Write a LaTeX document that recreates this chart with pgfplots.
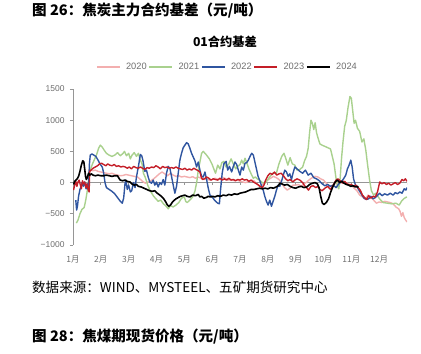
\documentclass[border=0pt]{standalone}
\usepackage{fontspec}
\setmainfont{Liberation Sans}
\newfontfamily\cjk{Noto Sans CJK SC}
\usepackage{pgfplots}
\pgfplotsset{compat=1.18}
\definecolor{c2020}{RGB}{243,175,175}
\definecolor{c2021}{RGB}{169,209,142}
\definecolor{c2022}{RGB}{47,85,160}
\definecolor{c2023}{RGB}{196,30,40}
\definecolor{c2024}{RGB}{0,0,0}
\definecolor{axisgray}{RGB}{150,150,150}
\definecolor{labelgray}{RGB}{110,110,110}
\begin{document}
\begin{tikzpicture}
\useasboundingbox (0,0) rectangle (421bp,354bp);
\node[anchor=west, inner sep=0] at (32bp,343bp) {\cjk\bfseries\fontsize{14.6}{16}\selectfont 图 26：焦炭主力合约基差（元/吨）};
\node[anchor=center, inner sep=0] at (225bp,312bp) {\cjk\bfseries\fontsize{12.3}{14}\selectfont 01合约基差};
\node[anchor=west, inner sep=0] at (32bp,67bp) {\cjk\fontsize{13.6}{15}\selectfont 数据来源：WIND、MYSTEEL、五矿期货研究中心};
\node[anchor=west, inner sep=0] at (32bp,17bp) {\cjk\bfseries\fontsize{14.6}{16}\selectfont 图 28：焦煤期现货价格（元/吨）};
\begin{axis}[
  at={(73bp,109bp)}, anchor=south west,
  width=334bp, height=156bp, scale only axis,
  xmin=0, xmax=12, ymin=-1000, ymax=1500,
  axis y line*=left, axis x line*=bottom,
  y axis line style={-, draw=axisgray, line width=0.8bp},
  x axis line style={draw=none},
  xtick={0,1,...,11},
  xticklabels={{\cjk 1月},{\cjk 2月},{\cjk 3月},{\cjk 4月},{\cjk 5月},{\cjk 6月},{\cjk 7月},{\cjk 8月},{\cjk 9月},{\cjk 10月},{\cjk 11月},{\cjk 12月}},
  xtick style={draw=none},
  xticklabel style={font=\fontsize{8.5}{10}\selectfont, text=labelgray, yshift=-4bp},
  ytick={-1000,-500,0,500,1000,1500},
  yticklabels={−1000,−500,0,500,1000,1500},
  ytick style={draw=axisgray, line width=0.8bp},
  tick align=outside, major tick length=3bp,
  yticklabel style={font=\fontsize{8.5}{10}\selectfont, text=labelgray, xshift=-2bp},
  extra y ticks={0}, extra y tick labels={},
  extra y tick style={grid=major, major grid style={draw=axisgray, line width=0.9bp}, tick style={draw=none}},
  legend columns=5,
  legend style={draw=none, fill=none, font=\fontsize{9.3}{10}\selectfont, text=labelgray,
    at={(axis description cs:0.4626,1.141)}, anchor=center,
    /tikz/every odd column/.append style={column sep=3.5bp}},
  legend image code/.code={\draw[#1] (0bp,0bp) -- (23bp,0bp);},
  every axis plot/.append style={line width=1.4bp, line join=round},
]
\pgfplotsinvokeforeach{1,...,12}{\draw[axisgray, line width=0.7bp] (axis cs:#1,0) -- ([yshift=-2.4bp]axis cs:#1,0);}
% 2020
\addplot[c2020] coordinates {
(0.55,200) (0.62,210) (0.7,190) (0.8,200) (0.9,180) (1.0,170) (1.1,160) (1.2,150) (1.3,140) (1.4,150) (1.5,130) (1.6,120) (1.7,110) (1.8,115) (1.9,130) (2.0,120) (2.1,110) (2.2,100) (2.3,95) (2.4,60) (2.5,20) (2.6,-10) (2.7,10) (2.8,30) (2.9,60) (3.0,100) (3.1,140) (3.2,170) (3.3,140) (3.4,110) (3.5,150) (3.6,120) (3.7,100) (3.8,110) (3.9,90) (4.0,100) (4.1,90) (4.2,80) (4.3,95) (4.4,70) (4.5,90) (4.6,70) (4.7,50) (4.8,60) (4.9,40) (5.0,50) (5.1,70) (5.2,55) (5.3,60) (5.4,80) (5.5,60) (5.6,40) (5.7,50) (5.8,30) (5.9,45) (6.0,20) (6.1,10) (6.2,0) (6.3,15) (6.4,40) (6.5,30) (6.6,-20) (6.7,-60) (6.8,-30) (6.9,10) (7.0,40) (7.1,70) (7.2,100) (7.3,80) (7.4,50) (7.5,-10) (7.6,-80) (7.7,-120) (7.8,-90) (7.9,-40) (8.0,-40) (8.1,-30) (8.2,-60) (8.3,-20) (8.4,10) (8.5,50) (8.6,80) (8.7,100) (8.8,90) (8.9,60) (9.0,40) (9.1,-10) (9.2,-50) (9.3,-60) (9.4,-20) (9.5,-10) (9.6,20) (9.7,30) (9.8,0) (9.9,-20) (10.0,-40) (10.1,-90) (10.2,-130) (10.3,-200) (10.4,-230) (10.5,-270) (10.6,-200) (10.7,-230) (10.8,-280) (10.9,-330) (11.0,-310) (11.1,-320) (11.2,-300) (11.3,-310) (11.4,-320) (11.5,-340) (11.6,-390) (11.7,-420) (11.75,-460) (11.8,-540) (11.85,-480) (11.9,-560) (11.95,-600) (12.0,-630)
};
\addlegendentry{2020}
% 2021
\addplot[c2021] coordinates {
(0.12,-650) (0.18,-600) (0.25,-500) (0.32,-430) (0.4,-400) (0.45,-300) (0.5,-170) (0.55,0) (0.58,150) (0.62,200) (0.7,300) (0.78,380) (0.85,450) (0.92,550) (0.98,600) (1.05,570) (1.12,520) (1.2,470) (1.3,440) (1.4,420) (1.5,440) (1.6,480) (1.7,430) (1.8,470) (1.85,500) (1.92,430) (2.0,470) (2.06,380) (2.12,440) (2.2,480) (2.28,420) (2.35,470) (2.42,360) (2.48,300) (2.53,150) (2.6,80) (2.7,-60) (2.8,-150) (2.9,-220) (3.0,-270) (3.06,-300) (3.15,-280) (3.25,-340) (3.35,-380) (3.42,-420) (3.5,-370) (3.6,-390) (3.7,-360) (3.8,-320) (3.9,-250) (4.0,-230) (4.05,-300) (4.1,-320) (4.2,-280) (4.3,-230) (4.38,-140) (4.45,20) (4.5,200) (4.56,330) (4.62,470) (4.68,500) (4.8,440) (4.9,380) (5.0,290) (5.05,230) (5.12,150) (5.2,280) (5.28,220) (5.35,320) (5.42,340) (5.5,250) (5.6,300) (5.68,380) (5.76,300) (5.85,220) (5.92,260) (6.0,290) (6.06,360) (6.12,300) (6.18,390) (6.25,310) (6.32,220) (6.41,130) (6.48,70) (6.55,90) (6.62,60) (6.7,40) (6.8,0) (6.9,-10) (7.0,50) (7.1,110) (7.2,160) (7.3,140) (7.4,300) (7.5,420) (7.58,470) (7.65,380) (7.72,280) (7.8,400) (7.88,300) (7.97,280) (8.05,200) (8.15,210) (8.25,250) (8.32,350) (8.39,420) (8.45,550) (8.5,800) (8.55,1000) (8.6,950) (8.65,850) (8.7,960) (8.75,800) (8.8,720) (8.87,620) (8.95,600) (9.05,580) (9.15,560) (9.25,540) (9.3,450) (9.38,300) (9.44,100) (9.5,-60) (9.55,-100) (9.6,80) (9.65,400) (9.7,650) (9.76,900) (9.82,1000) (9.88,1200) (9.95,1380) (10.0,1350) (10.05,1150) (10.1,950) (10.15,1000) (10.22,870) (10.3,820) (10.38,650) (10.45,700) (10.52,520) (10.58,300) (10.65,60) (10.72,-130) (10.8,-200) (10.88,-170) (10.95,-220) (11.05,-280) (11.15,-320) (11.3,-330) (11.45,-340) (11.6,-330) (11.72,-360) (11.8,-300) (11.88,-260) (11.95,-240) (12.0,-230)
};
\addlegendentry{2021}
% 2022
\addplot[c2022] coordinates {
(0.1,-280) (0.13,-440) (0.16,-380) (0.2,-220) (0.25,-110) (0.3,-50) (0.33,0) (0.37,-60) (0.42,10) (0.47,-100) (0.52,-20) (0.56,-100) (0.59,300) (0.62,440) (0.68,460) (0.75,440) (0.82,420) (0.9,360) (0.97,300) (1.05,250) (1.1,160) (1.15,0) (1.2,-80) (1.3,-110) (1.4,-140) (1.5,-180) (1.6,-240) (1.7,-300) (1.77,-330) (1.82,-250) (1.87,-10) (1.9,40) (1.95,-110) (2.0,-40) (2.06,-150) (2.11,-130) (2.17,0) (2.23,-80) (2.28,90) (2.35,260) (2.42,450) (2.47,430) (2.52,340) (2.58,180) (2.64,200) (2.7,90) (2.76,10) (2.82,-10) (2.88,40) (2.94,-40) (3.0,10) (3.06,-70) (3.12,0) (3.18,-30) (3.24,50) (3.3,-40) (3.36,150) (3.42,260) (3.48,230) (3.54,100) (3.6,-40) (3.66,-170) (3.72,-60) (3.78,150) (3.84,360) (3.9,470) (3.96,560) (4.02,600) (4.08,640) (4.14,620) (4.2,550) (4.26,470) (4.32,410) (4.38,350) (4.44,250) (4.5,330) (4.56,200) (4.62,100) (4.68,90) (4.74,170) (4.8,50) (4.86,-90) (4.92,-200) (5.0,-230) (5.1,-290) (5.2,-330) (5.26,-340) (5.3,-120) (5.36,150) (5.42,300) (5.5,340) (5.56,200) (5.62,260) (5.7,170) (5.76,260) (5.82,330) (5.88,290) (5.94,200) (6.0,120) (6.06,250) (6.12,200) (6.18,310) (6.24,320) (6.3,360) (6.36,420) (6.42,470) (6.48,440) (6.53,340) (6.6,200) (6.65,100) (6.72,20) (6.78,-60) (6.84,-130) (6.89,-220) (6.95,-300) (7.01,-360) (7.07,-280) (7.13,-380) (7.19,-300) (7.25,-220) (7.31,-120) (7.37,-40) (7.43,-60) (7.49,20) (7.55,110) (7.61,200) (7.67,170) (7.73,100) (7.79,140) (7.85,50) (7.91,160) (7.97,250) (8.05,220) (8.15,180) (8.25,150) (8.35,200) (8.45,120) (8.55,150) (8.65,80) (8.75,60) (8.85,30) (8.95,-20) (9.05,-50) (9.15,-30) (9.25,-60) (9.35,-40) (9.45,-80) (9.55,-20) (9.65,20) (9.72,60) (9.8,120) (9.86,220) (9.92,280) (9.98,360) (10.03,250) (10.08,60) (10.15,-40) (10.22,-80) (10.3,-140) (10.38,-200) (10.46,-250) (10.55,-270) (10.62,-260) (10.7,-220) (10.78,-260) (10.86,-240) (10.95,-200) (11.02,-170) (11.1,-210) (11.2,-180) (11.3,-200) (11.4,-170) (11.5,-200) (11.58,-160) (11.66,-180) (11.74,-150) (11.82,-170) (11.9,-100) (11.96,-120) (12.0,-80)
};
\addlegendentry{2022}
% 2023
\addplot[c2023] coordinates {
(0.02,-120) (0.06,-40) (0.1,20) (0.14,-60) (0.18,10) (0.22,40) (0.26,-30) (0.3,-100) (0.34,30) (0.38,-20) (0.42,10) (0.46,-80) (0.5,-20) (0.54,-110) (0.58,-150) (0.6,180) (0.65,200) (0.72,230) (0.8,250) (0.88,270) (0.95,300) (1.03,310) (1.1,290) (1.18,270) (1.25,300) (1.32,280) (1.4,270) (1.48,290) (1.56,260) (1.64,270) (1.72,250) (1.8,260) (1.88,250) (1.95,230) (2.02,250) (2.1,220) (2.18,260) (2.26,240) (2.34,230) (2.42,250) (2.5,230) (2.58,210) (2.66,240) (2.74,230) (2.82,250) (2.9,240) (2.98,270) (3.06,250) (3.14,220) (3.22,260) (3.3,240) (3.38,250) (3.46,230) (3.54,240) (3.62,230) (3.7,250) (3.78,230) (3.86,220) (3.94,210) (4.02,230) (4.1,200) (4.18,220) (4.26,200) (4.34,230) (4.42,210) (4.5,190) (4.56,170) (4.6,100) (4.65,50) (4.72,60) (4.8,90) (4.88,70) (4.96,40) (5.04,60) (5.12,50) (5.2,40) (5.28,70) (5.36,40) (5.44,60) (5.52,40) (5.6,70) (5.68,40) (5.76,50) (5.84,30) (5.92,50) (6.0,40) (6.08,60) (6.16,40) (6.24,50) (6.32,20) (6.4,40) (6.48,10) (6.56,-10) (6.64,-30) (6.72,-60) (6.8,-80) (6.86,-40) (6.92,40) (7.0,110) (7.08,150) (7.16,130) (7.24,170) (7.32,120) (7.4,140) (7.48,150) (7.56,110) (7.64,60) (7.72,30) (7.8,50) (7.9,10) (7.97,40) (8.05,60) (8.15,40) (8.25,0) (8.32,-50) (8.39,-80) (8.46,-120) (8.55,-60) (8.63,-50) (8.72,-80) (8.8,-60) (8.87,-110) (8.95,-130) (9.05,-90) (9.15,-60) (9.25,-110) (9.35,-40) (9.45,40) (9.52,60) (9.6,30) (9.68,-10) (9.76,20) (9.84,-20) (9.92,-40) (10.0,-30) (10.08,-60) (10.16,-40) (10.24,-80) (10.32,-120) (10.4,-200) (10.48,-240) (10.55,-270) (10.62,-210) (10.7,-250) (10.78,-220) (10.86,-230) (10.94,-150) (11.02,10) (11.1,-20) (11.18,0) (11.26,-30) (11.34,-10) (11.42,-40) (11.5,-20) (11.58,0) (11.66,-30) (11.74,-10) (11.82,50) (11.88,30) (11.94,60) (12.0,20)
};
\addlegendentry{2023}
% 2024
\addplot[c2024, line width=1.6bp] coordinates {
(0.02,-30) (0.06,20) (0.1,40) (0.15,60) (0.2,100) (0.25,180) (0.3,280) (0.35,350) (0.39,330) (0.42,220) (0.45,100) (0.48,50) (0.52,90) (0.56,150) (0.6,120) (0.66,140) (0.72,120) (0.8,110) (0.9,120) (1.0,110) (1.1,110) (1.2,120) (1.3,110) (1.4,100) (1.5,110) (1.6,110) (1.65,70) (1.7,40) (1.78,30) (1.87,40) (1.95,20) (2.05,10) (2.11,-20) (2.2,-40) (2.28,-30) (2.35,-60) (2.45,-70) (2.55,-90) (2.65,-110) (2.75,-130) (2.85,-140) (2.94,-130) (3.0,-160) (3.06,-180) (3.12,-200) (3.2,-230) (3.26,-260) (3.32,-300) (3.38,-350) (3.44,-380) (3.5,-360) (3.56,-320) (3.62,-290) (3.7,-260) (3.78,-240) (3.86,-220) (3.94,-210) (4.02,-200) (4.1,-220) (4.2,-230) (4.3,-200) (4.4,-210) (4.5,-190) (4.56,-230) (4.62,-220) (4.7,-250) (4.78,-240) (4.86,-220) (4.94,-230) (5.02,-220) (5.1,-230) (5.2,-210) (5.3,-220) (5.4,-200) (5.5,-210) (5.6,-190) (5.7,-200) (5.8,-180) (5.9,-190) (6.0,-170) (6.1,-160) (6.2,-150) (6.3,-130) (6.4,-110) (6.5,-110) (6.6,-100) (6.7,-90) (6.8,-100) (6.9,-90) (7.0,-100) (7.1,-80) (7.2,-90) (7.3,-70) (7.38,-50) (7.43,-10) (7.5,-20) (7.6,-40) (7.7,-30) (7.8,-60) (7.9,-80) (8.0,-90) (8.1,-70) (8.2,-60) (8.3,-80) (8.4,-70) (8.5,-30) (8.6,-10) (8.7,0) (8.78,-20) (8.84,-80) (8.9,-220) (8.96,-330) (9.02,-350) (9.1,-320) (9.18,-260) (9.26,-150) (9.34,-60) (9.42,10) (9.5,40) (9.58,0) (9.66,20) (9.74,-10) (9.82,-30) (9.9,-40) (9.98,-60) (10.06,-50) (10.14,-70) (10.22,-60) (10.25,-80)
};
\addlegendentry{2024}
\end{axis}
\end{tikzpicture}
\end{document}
